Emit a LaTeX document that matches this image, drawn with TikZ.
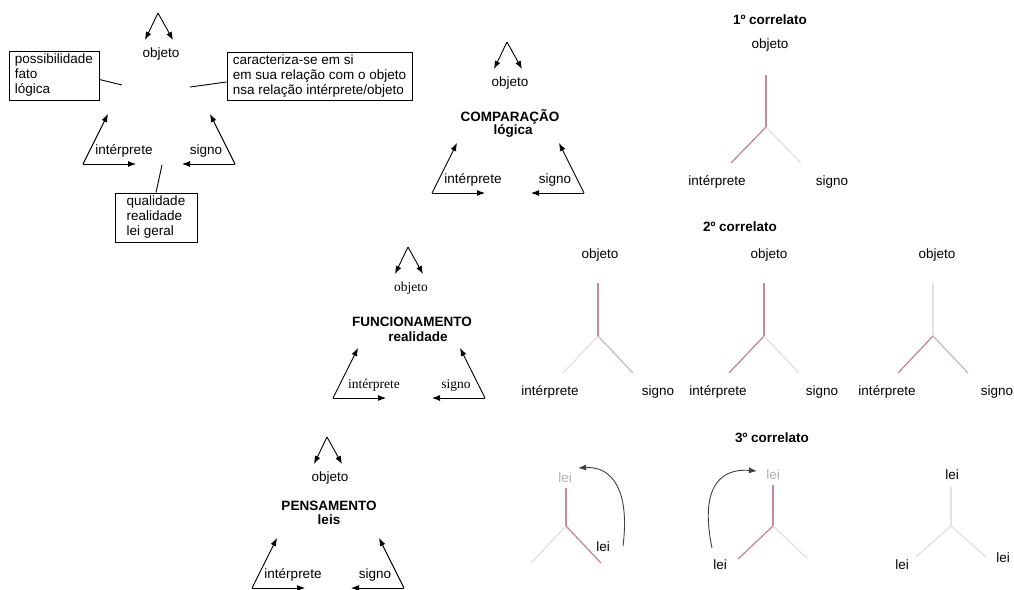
\documentclass[tikz,border=0pt]{standalone}
\usepackage{fontspec}
\setmainfont{Liberation Sans}
\newfontfamily\timesfont{Liberation Serif}
\usetikzlibrary{arrows.meta,calc,positioning}
\usepackage{xcolor}

\definecolor{forkred}{RGB}{196,138,150}
\definecolor{forkgrey}{RGB}{204,186,191}
\definecolor{forkpale}{RGB}{230,224,226}
\definecolor{leipale}{RGB}{175,175,175}
\newcommand\lblsize{\fontsize{13.5}{15}\selectfont}

\tikzset{
  lbl/.style={font=\lblsize, inner sep=1pt},
  ttl/.style={font=\lblsize\bfseries, inner sep=1pt},
  txtbox/.style={draw, line width=0.9pt, align=left, font=\lblsize, inner sep=0pt},
  arr/.style={line width=0.9pt, -{Latex[length=8pt,width=6pt]}},
  curv/.style={line width=0.9pt, black!75, -{Latex[length=8pt,width=6pt]}},
  fork/.style={line width=1.3pt},
  triad/.pic={
    \coordinate (-top) at (0,0);
    \coordinate (-l) at (-13,27);
    \coordinate (-r) at (15,27);
    \coordinate (-lt) at (-50,101);
    \coordinate (-lb) at (-75,151);
    \coordinate (-lm) at (-22,151);
    \coordinate (-rt) at (52,101);
    \coordinate (-rb) at (77,151);
    \coordinate (-rm) at (24,151);
    \node[lbl] (-obj) at (3,41) {objeto};
    \node[lbl] (-int) at (-34,138) {intérprete};
    \node[lbl] (-sig) at (48,138) {signo};
    \draw[arr] (-top) -- (-l);
    \draw[arr] (-top) -- (-r);
    \draw[arr] (-lb) -- (-lt);
    \draw[arr] (-lb) -- (-lm);
    \draw[arr] (-rb) -- (-rt);
    \draw[arr] (-rb) -- (-rm);
  },
  pics/yfork/.style n args={5}{code={
    \coordinate (-j) at (0,0);
    \coordinate (-t) at (0,-#1);
    \coordinate (-l) at (-35,#2);
    \coordinate (-r) at (35,#2);
    \draw[fork,#3] (-j) -- (-t);
    \draw[fork,#4] (-j) -- (-l);
    \draw[fork,#5] (-j) -- (-r);
  }}
}

\begin{document}
\begin{tikzpicture}[x=1pt, y=-1pt]
\useasboundingbox (0,0) rectangle (1014,589);
\clip (0,0) rectangle (1014,589);

% the four triads
\pic (sem) at (158,13) {triad};
\pic (cmp) at (507,42) {triad};
\pic[lbl/.style={font=\lblsize\timesfont, inner sep=1pt}] (fun) at (408,247) {triad};
\pic (pen) at (327,437) {triad};

\node[ttl] (cmpt) at (510,117) {COMPARAÇÃO};
\node[ttl] (cmps) at (513,131) {lógica};
\node[ttl] (funt) at (412,322) {FUNCIONAMENTO};
\node[ttl] (funs) at (418,337) {realidade};
\node[ttl] (pent) at (329,506) {PENSAMENTO};
\node[ttl] (pens) at (329,520) {leis};

% boxes round the first triad
\node[txtbox, minimum width=90pt, minimum height=49pt] (poss) at (54,75.5) {possibilidade\\fato\\lógica};
\node[txtbox, minimum width=185pt, minimum height=48pt] (carac) at (319.5,76) {caracteriza-se em si\\em sua relação com o objeto\\nsa relação intérprete/objeto};
\node[txtbox, minimum width=82pt, minimum height=49pt] (qual) at (156,217.5) {qualidade\\realidade\\lei geral};

\coordinate (pc) at (122,85);
\coordinate (cc) at (190,87);
\coordinate (qc) at (162,165);
\draw[line width=0.9pt] ([yshift=-4pt]poss.east) -- (pc);
\draw[line width=0.9pt] ([yshift=-6pt]carac.west) -- (cc);
\draw[line width=0.9pt] (qual.north) -- (qc);

% 1o correlato
\node[ttl] (cor1) at (770,20) {1º correlato};
\pic (y1) at (766,127) {yfork={52}{36}{forkred}{forkred}{forkpale}};
\node[lbl] (o1) at (770,45) {objeto};
\node[lbl] (i1) at (717,182) {intérprete};
\node[lbl] (s1) at (832,182) {signo};

% 2o correlato
\node[ttl] (cor2) at (740,227) {2º correlato};
\pic (y2a) at (598,336) {yfork={53}{37}{forkred}{forkpale}{forkgrey}};
\pic (y2b) at (764,336) {yfork={53}{37}{forkred}{forkred}{forkpale}};
\pic (y2c) at (933,336) {yfork={53}{37}{forkpale}{forkred}{forkgrey}};
\node[lbl] (o2a) at (600,255) {objeto};
\node[lbl] (i2a) at (550,392) {intérprete};
\node[lbl] (s2a) at (658,392) {signo};
\node[lbl] (o2b) at (769,255) {objeto};
\node[lbl] (i2b) at (718,392) {intérprete};
\node[lbl] (s2b) at (822,392) {signo};
\node[lbl] (o2c) at (937,255) {objeto};
\node[lbl] (i2c) at (887,392) {intérprete};
\node[lbl] (s2c) at (997,392) {signo};

% 3o correlato
\node[ttl] (cor3) at (772,438) {3º correlato};
\pic (y3a) at (566,526) {yfork={38}{37}{forkred}{forkpale}{forkred}};
\pic (y3b) at (773,526) {yfork={41}{33}{forkred}{forkred}{forkpale}};
\pic (y3c) at (951,526) {yfork={39}{31}{forkpale}{forkpale}{forkpale}};
\node[lbl, leipale] (t3a) at (565,478) {lei};
\node[lbl] (r3a) at (603,547) {lei};
\node[lbl, leipale] (t3b) at (773,475) {lei};
\node[lbl] (l3b) at (720,565) {lei};
\node[lbl] (t3c) at (952,475) {lei};
\node[lbl] (l3c) at (902,565) {lei};
\node[lbl] (r3c) at (1003,558) {lei};

\coordinate (ca1) at (623,546);
\coordinate (ca2) at (578,468);
\coordinate (cb1) at (712,548);
\coordinate (cb2) at (757,471);
\draw[curv] (ca1) .. controls (630,490) and (612,466) .. (ca2);
\draw[curv] (cb1) .. controls (700,490) and (718,468) .. (cb2);

\end{tikzpicture}
\end{document}
